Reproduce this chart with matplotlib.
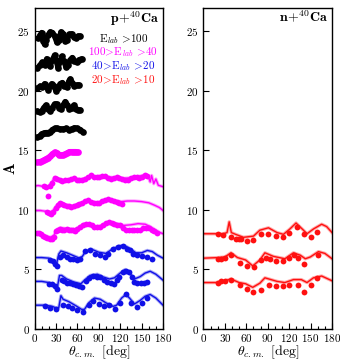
import matplotlib
matplotlib.use("Agg")
import matplotlib.pyplot as plt
from matplotlib.ticker import MultipleLocator

plt.rcParams['font.family'] = 'serif'
plt.rcParams['font.serif'] = ['cmr10', 'DejaVu Serif']
plt.rcParams['mathtext.fontset'] = 'cm'
plt.rcParams['axes.formatter.use_mathtext'] = True

# ---- p + 40Ca, E > 100 (black, dense data bands) ----
b24_t = [5, 8, 10, 12, 14, 16, 19, 22, 25, 28, 31, 34, 37, 40, 43, 46, 49, 52, 55, 58, 61, 64]
b24_a = [24.4, 24.7, 24.9, 24.2, 23.9, 24.3, 24.7, 24.95, 24.9, 24.6, 24.1, 24.3, 24.95, 24.8, 24.15, 24.3, 24.75, 24.8, 24.5, 24.4, 24.6, 24.6]
b22_t = [4, 8, 11, 14, 17, 20, 22, 25, 28, 31, 33, 36, 38, 41, 44, 47, 50, 53, 56, 59, 62, 66]
b22_a = [21.9, 22.2, 22.4, 22.2, 22.7, 22.3, 22.1, 22.6, 23.0, 22.4, 21.9, 22.5, 22.9, 22.5, 22.0, 22.2, 22.6, 22.8, 22.5, 22.4, 22.6, 22.7]
b20_t = [4, 8, 11, 14, 17, 19, 22, 24, 27, 30, 33, 36, 39, 42, 45, 48, 50, 53, 56, 59, 62]
b20_a = [20.2, 20.4, 20.3, 20.6, 20.3, 20.1, 20.4, 20.6, 20.4, 20.0, 20.2, 20.6, 20.7, 20.4, 20.3, 20.8, 21.0, 20.7, 20.4, 20.5, 20.5]
b18_t = [4, 7, 10, 13, 16, 19, 22, 25, 28, 31, 34, 37, 40, 43, 46, 49, 52, 55, 58, 61, 64]
b18_a = [18.3, 18.2, 18.3, 18.6, 18.8, 18.5, 18.35, 18.6, 18.9, 18.9, 18.6, 18.5, 18.8, 19.1, 18.8, 18.5, 18.6, 18.8, 18.5, 18.4, 18.4]
b16_t = [4, 7, 10, 13, 16, 19, 22, 25, 28, 32, 36, 40, 44, 48, 52, 56, 60, 64, 68]
b16_a = [16.1, 16.2, 16.4, 16.45, 16.5, 16.5, 16.55, 16.75, 16.85, 16.85, 16.8, 16.8, 16.85, 16.75, 16.8, 16.9, 16.85, 16.75, 16.55]

# ---- p + 40Ca, 100 > E > 40 (magenta) ----
m14_t = [4, 7, 10, 13, 16, 19, 22, 25, 28, 31, 34, 37, 40, 43, 46, 49, 52, 55, 58, 61]
m14_a = [14.0, 14.05, 14.1, 14.2, 14.3, 14.4, 14.5, 14.7, 14.85, 14.8, 14.6, 14.6, 14.65, 14.7, 14.8, 14.9, 14.9, 14.9, 14.9, 14.85]

m12_t = [13, 16, 19, 22, 25, 28, 31, 35, 39, 43, 47, 51, 55, 59, 63, 67, 71, 75, 79, 83, 87, 91, 95, 99,
         103, 107, 111, 115, 119, 123, 127, 131, 135, 139, 143, 147, 151, 155, 158]
m12_a = [12.0, 11.9, 11.15, 12.0, 12.3, 12.7, 12.6, 12.5, 12.45, 12.5, 12.55, 12.6, 12.65, 12.55, 12.5, 12.5, 12.6, 12.8, 12.9, 12.8, 12.75, 12.8, 12.85, 12.85,
         12.7, 12.6, 12.7, 12.75, 12.7, 12.6, 12.5, 12.5, 12.65, 12.8, 12.75, 12.7, 12.8, 12.9, 12.85]
m12_lt = [0, 5, 10, 15, 20, 25, 28, 32, 36, 45, 55, 65, 75, 85, 95, 105, 115, 125, 135, 145, 152, 156, 159.5, 162, 164, 167, 170, 173.4, 180]
m12_la = [12.0, 12.05, 12.0, 11.9, 12.0, 12.4, 12.75, 12.65, 12.5, 12.45, 12.6, 12.55, 12.75, 12.8, 12.8, 12.75, 12.7, 12.65, 12.7, 12.8, 12.9, 12.8, 12.77, 12.35, 12.9, 12.2, 12.6, 12.07, 11.95]

m10_t = [17, 20, 23, 26, 30, 33, 36, 39, 42, 45, 48, 51, 55, 59, 63, 67, 71, 75, 79, 83, 87, 91, 95, 99, 103, 107, 111, 115, 119, 122]
m10_a = [9.8, 9.75, 9.7, 9.85, 10.2, 10.45, 10.6, 10.5, 10.4, 10.35, 10.3, 10.25, 10.3, 10.4, 10.5, 10.6, 10.75, 10.8, 10.7, 10.6, 10.55, 10.6, 10.75, 10.85, 10.9, 10.85, 10.75, 10.7, 10.55, 10.5]
m10_lt = [0, 8, 14, 18, 22, 26, 30, 34, 38, 45, 52, 60, 68, 75, 82, 90, 98, 106, 114, 122, 130, 140, 150, 160, 168, 175, 180]
m10_la = [9.95, 9.95, 9.9, 9.85, 9.8, 9.95, 10.3, 10.55, 10.55, 10.4, 10.3, 10.45, 10.65, 10.8, 10.65, 10.6, 10.8, 10.85, 10.75, 10.7, 10.75, 10.75, 10.7, 10.6, 10.4, 10.2, 9.95]

m8_t = [3, 6, 9, 12, 15, 18, 21, 24, 27, 30, 33, 36, 39, 42, 45, 48, 51, 54, 57, 60, 64, 68, 72, 76, 80, 84, 88, 92,
        96, 100, 104, 108, 112, 116, 120, 124, 128, 132, 136, 140, 144, 148, 152, 156, 160, 164, 168, 172]
m8_a = [8.05, 8.05, 7.95, 7.85, 7.75, 7.65, 7.6, 7.6, 7.75, 8.2, 8.35, 8.4, 8.35, 8.35, 8.4, 8.35, 8.3, 8.3, 8.25, 8.4, 8.6, 8.75, 8.85, 8.8, 8.7, 8.6, 8.55, 8.6,
        8.75, 8.9, 8.95, 8.9, 8.8, 8.75, 8.7, 8.5, 8.35, 8.3, 8.3, 8.3, 8.3, 8.35, 8.45, 8.5, 8.45, 8.3, 8.2, 8.1]
m8_lt = [0, 8, 15, 22, 27, 31, 36, 42, 50, 57, 63, 70, 77, 85, 92, 100, 108, 115, 125, 135, 145, 155, 162, 170, 176, 180]
m8_la = [8.05, 8.0, 7.85, 7.7, 7.85, 8.35, 8.5, 8.45, 8.4, 8.35, 8.6, 8.85, 8.8, 8.6, 8.65, 8.9, 8.95, 8.85, 8.7, 8.75, 8.85, 8.8, 8.6, 8.3, 8.1, 8.0]

# ---- p + 40Ca, 40 > E > 20 (blue) ----
u6_t = [21.7, 26.4, 28.7, 31, 35.7, 40.4, 45, 49.7, 54.3, 59, 63.7, 70.7, 77.7, 84.7, 91.7, 98.7, 103.4, 110.4,
        117.4, 124.4, 129, 133.7, 138.4, 143, 150, 157, 164]
u6_a = [5.78, 5.7, 5.5, 5.3, 6.06, 6.2, 6.06, 5.92, 5.87, 5.78, 5.92, 6.54, 6.62, 6.34, 6.2, 6.06, 6.34, 6.76,
        6.9, 6.95, 6.76, 6.62, 6.34, 6.2, 6.15, 6.06, 5.92]
u6_lt = [0, 10, 20, 27, 31, 34, 37, 45, 55, 63, 67, 72, 80, 90, 100, 110, 120, 128, 135, 142, 150, 158, 165, 172, 180]
u6_la = [6.0, 6.0, 5.95, 5.7, 5.5, 6.3, 6.55, 6.4, 6.15, 5.95, 6.1, 6.55, 6.7, 6.45, 6.35, 6.75, 7.0, 6.95, 6.7, 6.4, 6.4, 6.6, 6.5, 6.2, 5.95]

u4_t = [20, 24, 28, 32, 38, 42, 46, 50, 54, 58, 62, 67, 72, 77, 82, 87, 92, 97, 102, 107, 111, 115, 119, 124, 128, 132,
        136, 140, 144, 149, 154, 158]
u4_a = [3.8, 3.75, 3.6, 3.35, 4.15, 4.0, 3.9, 3.85, 3.75, 3.7, 3.65, 3.55, 4.0, 4.3, 4.45, 4.4, 4.35, 4.15, 3.97, 3.85, 3.8, 4.1,
        4.4, 4.75, 4.9, 4.8, 4.4, 3.97, 3.9, 3.9, 3.9, 3.97]
u4_lt = [0, 10, 20, 28, 32, 35, 38, 45, 55, 65, 70, 78, 88, 95, 105, 112, 120, 127, 133, 140, 148, 155, 162, 170, 180]
u4_la = [4.0, 4.0, 3.9, 3.7, 3.5, 4.5, 4.5, 4.2, 3.95, 3.8, 4.1, 4.5, 4.6, 4.4, 4.2, 4.3, 4.7, 5.0, 4.7, 4.2, 4.4, 4.7, 4.85, 4.6, 4.1]

u2_t = [15, 22, 30, 40, 47, 53, 60, 68, 76, 82, 91, 98, 104, 113, 120, 128, 135, 143, 151, 158]
u2_a = [1.95, 1.8, 1.65, 2.0, 1.93, 1.8, 1.6, 1.4, 2.0, 2.35, 2.07, 1.93, 2.0, 1.7, 2.2, 2.9, 2.2, 1.85, 2.2, 2.6]
u2_lt = [0, 15, 25, 31, 34, 37, 40, 48, 58, 66, 70, 76, 84, 92, 100, 110, 115, 122, 128, 133, 140, 148, 155, 162, 170, 180]
u2_la = [2.0, 2.0, 1.9, 1.75, 1.8, 2.8, 2.5, 2.3, 1.95, 1.65, 1.65, 2.2, 2.6, 2.5, 2.2, 1.9, 2.0, 2.6, 2.9, 2.6, 2.1, 2.4, 2.75, 2.9, 2.6, 2.0]

# ---- n + 40Ca, 20 > E > 10 (red) ----
r8_t = [19.8, 27.5, 39, 45, 50, 53, 61, 70, 81, 91, 101, 111, 120, 130.5, 141, 151, 159]
r8_a = [8.0, 7.9, 7.7, 7.6, 7.55, 7.55, 7.4, 7.5, 8.0, 7.95, 7.8, 7.75, 8.1, 8.55, 7.95, 7.75, 8.15]
r8_lt = [0, 15, 28, 33, 36, 39, 45, 56, 70, 79, 91, 103, 112, 121, 129.6, 140, 145, 154, 165.5, 172.5, 180]
r8_la = [8.0, 8.0, 8.0, 8.1, 9.0, 8.1, 7.95, 7.7, 7.8, 8.3, 8.5, 8.1, 7.95, 8.4, 8.9, 8.3, 8.0, 8.4, 8.8, 8.6, 8.1]

r6_t = [20.7, 25, 30, 39, 51.5, 61, 70.7, 81, 88, 93, 101, 111, 120, 126.6, 132, 141, 160.5]
r6_a = [5.85, 5.9, 6.0, 6.25, 5.55, 5.3, 5.25, 5.8, 5.95, 5.9, 5.75, 5.75, 5.95, 6.2, 5.95, 5.45, 6.25]
r6_lt = [0, 21, 30, 38.5, 47.6, 59, 69, 79, 86, 98, 114, 126, 135.5, 142.6, 149.6, 161, 170, 180]
r6_la = [5.95, 6.0, 6.05, 6.4, 6.0, 5.8, 5.3, 5.8, 6.4, 6.1, 5.9, 6.4, 6.2, 5.9, 6.05, 6.5, 6.35, 5.9]

r4_t = [20.7, 25, 30, 39, 50.6, 61, 70, 81, 92, 101, 111, 120, 132, 141, 151, 159]
r4_a = [3.9, 4.0, 4.0, 4.1, 3.7, 3.35, 3.15, 3.25, 3.7, 3.65, 3.65, 3.7, 3.7, 3.15, 3.7, 4.3]
r4_lt = [0, 17, 30, 38.5, 50, 59, 69, 79, 86, 103, 114, 126, 137, 145, 154, 165.5, 180]
r4_la = [3.9, 3.9, 4.05, 4.2, 3.9, 3.8, 3.5, 3.85, 4.3, 4.0, 3.9, 4.15, 4.15, 3.9, 4.3, 4.45, 4.05]

black = 'black'
mag = '#ff00ff'
blue = '#1010e8'
red = '#ff1010'

fig = plt.figure(figsize=(3.4, 3.61), dpi=100)
ax1 = fig.add_axes([0.1015, 0.0886, 0.378, 0.8906])
ax2 = fig.add_axes([0.5985, 0.0886, 0.378, 0.8906])


def band(ax, t, a, c):
    ax.plot(t, a, '-', color=c, lw=3.8, solid_capstyle='round')
    ax.plot(t, a, 'o', color=c, ms=4.8, mec='none')


def curve(ax, lt, la, t, a, c):
    ax.plot(lt, la, '-', color=c, lw=2.4, alpha=0.35)
    ax.plot(lt, la, '-', color=c, lw=1.0)
    ax.plot(t, a, 'o', color=c, ms=4.2, mec='none')


for t, a in [(b24_t, b24_a), (b22_t, b22_a), (b20_t, b20_a), (b18_t, b18_a), (b16_t, b16_a)]:
    band(ax1, t, a, black)
band(ax1, m14_t, m14_a, mag)
curve(ax1, m12_lt, m12_la, m12_t, m12_a, mag)
curve(ax1, m10_lt, m10_la, m10_t, m10_a, mag)
curve(ax1, m8_lt, m8_la, m8_t, m8_a, mag)
curve(ax1, u6_lt, u6_la, u6_t, u6_a, blue)
curve(ax1, u4_lt, u4_la, u4_t, u4_a, blue)
curve(ax1, u2_lt, u2_la, u2_t, u2_a, blue)

curve(ax2, r8_lt, r8_la, r8_t, r8_a, red)
curve(ax2, r6_lt, r6_la, r6_t, r6_a, red)
curve(ax2, r4_lt, r4_la, r4_t, r4_a, red)

for ax in (ax1, ax2):
    ax.set_xlim(0, 180)
    ax.set_ylim(0, 27)
    ax.xaxis.set_major_locator(MultipleLocator(30))
    ax.xaxis.set_minor_locator(MultipleLocator(10))
    ax.yaxis.set_major_locator(MultipleLocator(5))
    ax.tick_params(which='both', direction='in', top=False, right=False, labelsize=8)
    ax.tick_params(axis='x', pad=2)
    ax.tick_params(which='major', length=4, width=0.8)
    ax.tick_params(which='minor', length=2.5, width=0.8)
    ax.set_xlabel(r'$\theta_{c.m.}$ [deg]', fontsize=10)
    ax.xaxis.set_label_coords(0.5, -0.045)
    for s in ax.spines.values():
        s.set_linewidth(1.0)

ax1.set_ylabel(r'$\mathbf{A}$', fontsize=11)
ax1.yaxis.set_label_coords(-0.13, 0.5)

ax1.text(0.97, 0.995, r'$\mathbf{p\!+\!^{40}Ca}$', transform=ax1.transAxes, ha='right', va='top', fontsize=10)
ax2.text(0.97, 0.995, r'$\mathbf{n\!+\!^{40}Ca}$', transform=ax2.transAxes, ha='right', va='top', fontsize=10)

ax1.text(0.69, 0.903, r'$\mathrm{E}_{lab}\ \mathrm{\!>\!100}$', transform=ax1.transAxes, ha='center', va='center', fontsize=8, color=black)
ax1.text(0.69, 0.86, r'$\mathrm{100\!>\!E}_{lab}\ \mathrm{\!>\!40}$', transform=ax1.transAxes, ha='center', va='center', fontsize=8, color=mag)
ax1.text(0.69, 0.817, r'$\mathrm{40\!>\!E}_{lab}\ \mathrm{\!>\!20}$', transform=ax1.transAxes, ha='center', va='center', fontsize=8, color=blue)
ax1.text(0.69, 0.774, r'$\mathrm{20\!>\!E}_{lab}\ \mathrm{\!>\!10}$', transform=ax1.transAxes, ha='center', va='center', fontsize=8, color=red)

fig.savefig('out.png', dpi=100)
